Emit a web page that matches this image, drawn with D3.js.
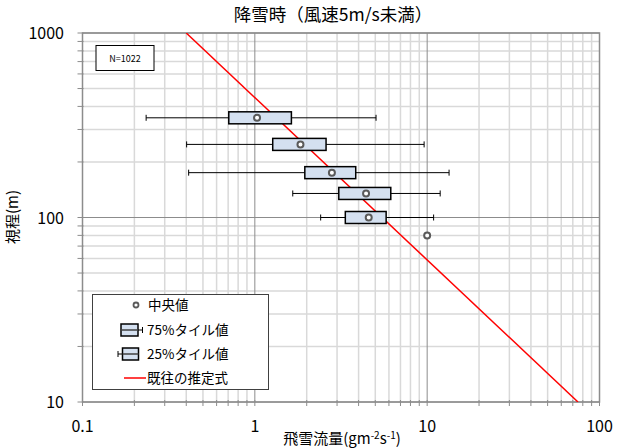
<!DOCTYPE html>
<html>
<head>
<meta charset="utf-8">
<script src="https://cdn.jsdelivr.net/npm/d3@7"></script>
<style>
  body { margin: 0; background: #fff; }
  text { font-family: "Noto Sans CJK JP", "Noto Sans", sans-serif; fill: #000; }
</style>
</head>
<body>
<script>
// Chart data
const visibility = [347, 249, 175, 135, 100];          // 視程 (m), one box per row
const whiskerLow = [0.234, 0.402, 0.413, 1.66, 2.41];
const q1 = [0.706, 1.27, 1.95, 3.07, 3.35];
const median = [1.03, 1.84, 2.80, 4.42, 4.58];
const q3 = [1.63, 2.59, 3.85, 6.15, 5.78];
const whiskerHigh = [5.05, 9.6, 13.4, 11.9, 10.9];
const outlierX = [10];
const outlierY = [80];
const estimateX = [0.4, 75];      // 既往の推定式, end points
const estimateY = [1000, 10];
const xTicks = [0.1, 1, 10, 100];
const yTicks = [10, 100, 1000];
const legendLabels = ["中央値", "75%タイル値", "25%タイル値", "既往の推定式"];

const canvasWidth = 625;
const canvasHeight = 448;

const svg = d3.select('body')
    .append('svg')
    .attr('width', canvasWidth)
    .attr('height', canvasHeight);

const x = d3.scaleLog().domain([0.1, 100]).range([82.5, 599.5]);
const y = d3.scaleLog().domain([10, 1000]).range([402, 33]);

const plotLeft = x.range()[0], plotRight = x.range()[1];
const plotTop = y.range()[1], plotBottom = y.range()[0];

// minor / major values for grid
function logSteps(lo, hi) {
    let out = [];
    for (let d = lo; d < hi * 0.999; d *= 10) {
        for (let k = 1; k < 10; k++) out.push(+(d * k).toPrecision(6));
    }
    out.push(hi);
    return out;
}
const xAll = logSteps(0.1, 100);
const yAll = logSteps(10, 1000);
const isMajor = v => Math.abs(Math.log10(v) - Math.round(Math.log10(v))) < 1e-9;

// Grid
const grid = svg.append('g');
grid.selectAll('.vminor').data(xAll.filter(v => !isMajor(v))).enter()
    .append('line')
    .attr('x1', d => x(d)).attr('x2', d => x(d))
    .attr('y1', plotTop).attr('y2', plotBottom)
    .attr('stroke', '#d9d9d9').attr('stroke-width', 1.5);
grid.selectAll('.hminor').data(yAll.filter(v => !isMajor(v))).enter()
    .append('line')
    .attr('y1', d => y(d)).attr('y2', d => y(d))
    .attr('x1', plotLeft).attr('x2', plotRight)
    .attr('stroke', '#d9d9d9').attr('stroke-width', 1.5);
grid.selectAll('.vmajor').data(xTicks).enter()
    .append('line')
    .attr('x1', d => x(d)).attr('x2', d => x(d))
    .attr('y1', plotTop).attr('y2', plotBottom)
    .attr('stroke', '#8c8c8c').attr('stroke-width', 1);
grid.selectAll('.hmajor').data(yTicks).enter()
    .append('line')
    .attr('y1', d => y(d)).attr('y2', d => y(d))
    .attr('x1', plotLeft).attr('x2', plotRight)
    .attr('stroke', '#8c8c8c').attr('stroke-width', 1);

// Frame
svg.append('rect')
    .attr('x', plotLeft).attr('y', plotTop)
    .attr('width', plotRight - plotLeft).attr('height', plotBottom - plotTop)
    .attr('fill', 'none').attr('stroke', '#8c8c8c').attr('stroke-width', 1.5);

// Ticks
svg.append('g').selectAll('line').data(xAll).enter()
    .append('line')
    .attr('x1', d => x(d)).attr('x2', d => x(d))
    .attr('y1', plotBottom - 2).attr('y2', plotBottom + 4)
    .attr('stroke', '#8c8c8c');
svg.append('g').selectAll('line').data(yAll).enter()
    .append('line')
    .attr('y1', d => y(d)).attr('y2', d => y(d))
    .attr('x1', plotLeft - 5).attr('x2', plotLeft + 1)
    .attr('stroke', '#8c8c8c');

// Tick labels
svg.append('g').selectAll('text').data(xTicks).enter()
    .append('text')
    .attr('x', d => x(d)).attr('y', 432)
    .attr('text-anchor', 'middle')
    .style('font-size', '16px')
    .text(d => d);
svg.append('g').selectAll('text').data(yTicks).enter()
    .append('text')
    .attr('x', 64).attr('y', d => y(d) + 6)
    .attr('text-anchor', 'end')
    .style('font-size', '16px')
    .text(d => d);

// Estimate line (clipped to plot)
svg.append('clipPath').attr('id', 'plotClip')
    .append('rect').attr('x', plotLeft).attr('y', plotTop)
    .attr('width', plotRight - plotLeft).attr('height', plotBottom - plotTop);

const lineFn = d3.line().x(d => x(d[0])).y(d => y(d[1]));
svg.append('path')
    .attr('clip-path', 'url(#plotClip)')
    .attr('d', lineFn(d3.zip(estimateX, estimateY)))
    .attr('stroke', '#ff0000').attr('stroke-width', 1.5)
    .attr('fill', 'none');

// Box plots
const boxH = 12, capH = 6;
const boxes = svg.append('g');
visibility.forEach((v, i) => {
    const cy = y(v);
    const g = boxes.append('g');
    g.append('line')
        .attr('x1', x(whiskerLow[i])).attr('x2', x(whiskerHigh[i]))
        .attr('y1', cy).attr('y2', cy)
        .attr('stroke', '#000').attr('stroke-width', 1);
    [whiskerLow[i], whiskerHigh[i]].forEach(w => {
        g.append('line')
            .attr('x1', x(w)).attr('x2', x(w))
            .attr('y1', cy - capH / 2).attr('y2', cy + capH / 2)
            .attr('stroke', '#000').attr('stroke-width', 1);
    });
    g.append('rect')
        .attr('x', x(q1[i])).attr('y', cy - boxH / 2)
        .attr('width', x(q3[i]) - x(q1[i])).attr('height', boxH)
        .attr('fill', '#d4e0f0').attr('stroke', '#000').attr('stroke-width', 1.5);
    g.append('circle')
        .attr('cx', x(median[i])).attr('cy', cy).attr('r', 3)
        .attr('fill', '#fff').attr('stroke', '#5a5a5a').attr('stroke-width', 2);
});
svg.append('g').selectAll('circle').data(d3.zip(outlierX, outlierY)).enter()
    .append('circle')
    .attr('cx', d => x(d[0])).attr('cy', d => y(d[1])).attr('r', 3)
    .attr('fill', '#fff').attr('stroke', '#5a5a5a').attr('stroke-width', 2);

// N box
svg.append('rect')
    .attr('x', 96).attr('y', 45.5).attr('width', 58).attr('height', 25)
    .attr('fill', '#fff').attr('stroke', '#000').attr('stroke-width', 1);
svg.append('text')
    .attr('x', 125).attr('y', 61.5)
    .attr('text-anchor', 'middle')
    .style('font-size', '9px')
    .text('N=1022');

// Legend
const legend = svg.append('g');
legend.append('rect')
    .attr('x', 92.5).attr('y', 294.5).attr('width', 176).attr('height', 95)
    .attr('fill', '#fff').attr('stroke', '#404040').attr('stroke-width', 1);
const legY = [305, 330, 354, 378];
legend.selectAll('text').data(legendLabels).enter()
    .append('text')
    .attr('x', (d, i) => i === 0 ? 148 : 147)
    .attr('y', (d, i) => legY[i] + 5)
    .style('font-size', '13.5px')
    .text(d => d);
// median marker
legend.append('circle').attr('cx', 136).attr('cy', legY[0]).attr('r', 2.5)
    .attr('fill', '#fff').attr('stroke', '#5a5a5a').attr('stroke-width', 1.8);
// 75% marker
legend.append('rect').attr('x', 121).attr('y', legY[1] - 6).attr('width', 17).attr('height', 12)
    .attr('fill', '#d4e0f0').attr('stroke', '#000').attr('stroke-width', 1.5);
legend.append('line').attr('x1', 121).attr('x2', 138).attr('y1', legY[1]).attr('y2', legY[1])
    .attr('stroke', '#404040').attr('stroke-width', 1.5);
legend.append('line').attr('x1', 138).attr('x2', 142.5).attr('y1', legY[1]).attr('y2', legY[1])
    .attr('stroke', '#000');
legend.append('line').attr('x1', 142.5).attr('x2', 142.5).attr('y1', legY[1] - 3).attr('y2', legY[1] + 3)
    .attr('stroke', '#000');
// 25% marker
legend.append('rect').attr('x', 122.5).attr('y', legY[2] - 6).attr('width', 16).attr('height', 12)
    .attr('fill', '#d4e0f0').attr('stroke', '#000').attr('stroke-width', 1.5);
legend.append('line').attr('x1', 122.5).attr('x2', 138.5).attr('y1', legY[2]).attr('y2', legY[2])
    .attr('stroke', '#404040').attr('stroke-width', 1.5);
legend.append('line').attr('x1', 118).attr('x2', 122.5).attr('y1', legY[2]).attr('y2', legY[2])
    .attr('stroke', '#000');
legend.append('line').attr('x1', 118).attr('x2', 118).attr('y1', legY[2] - 3).attr('y2', legY[2] + 3)
    .attr('stroke', '#000');
// estimate marker
legend.append('line').attr('x1', 124).attr('x2', 146).attr('y1', legY[3]).attr('y2', legY[3])
    .attr('stroke', '#ff0000').attr('stroke-width', 1.5);

// Title
svg.append('text')
    .attr('x', 333).attr('y', 21)
    .attr('text-anchor', 'middle')
    .style('font-size', '17.5px')
    .text('降雪時（風速5m/s未満）');

// Axis titles
const xTitle = svg.append('text')
    .attr('x', 342).attr('y', 444)
    .attr('text-anchor', 'middle')
    .style('font-size', '15px');
xTitle.append('tspan').text('飛雪流量(gm');
xTitle.append('tspan').attr('dy', -5).style('font-size', '10px').text('-2');
xTitle.append('tspan').attr('dy', 5).text('s');
xTitle.append('tspan').attr('dy', -5).style('font-size', '10px').text('-1');
xTitle.append('tspan').attr('dy', 5).text(')');

svg.append('text')
    .attr('transform', 'translate(18,217) rotate(-90)')
    .attr('text-anchor', 'middle')
    .style('font-size', '15px')
    .text('視程(m)');
</script>
</body>
</html>
